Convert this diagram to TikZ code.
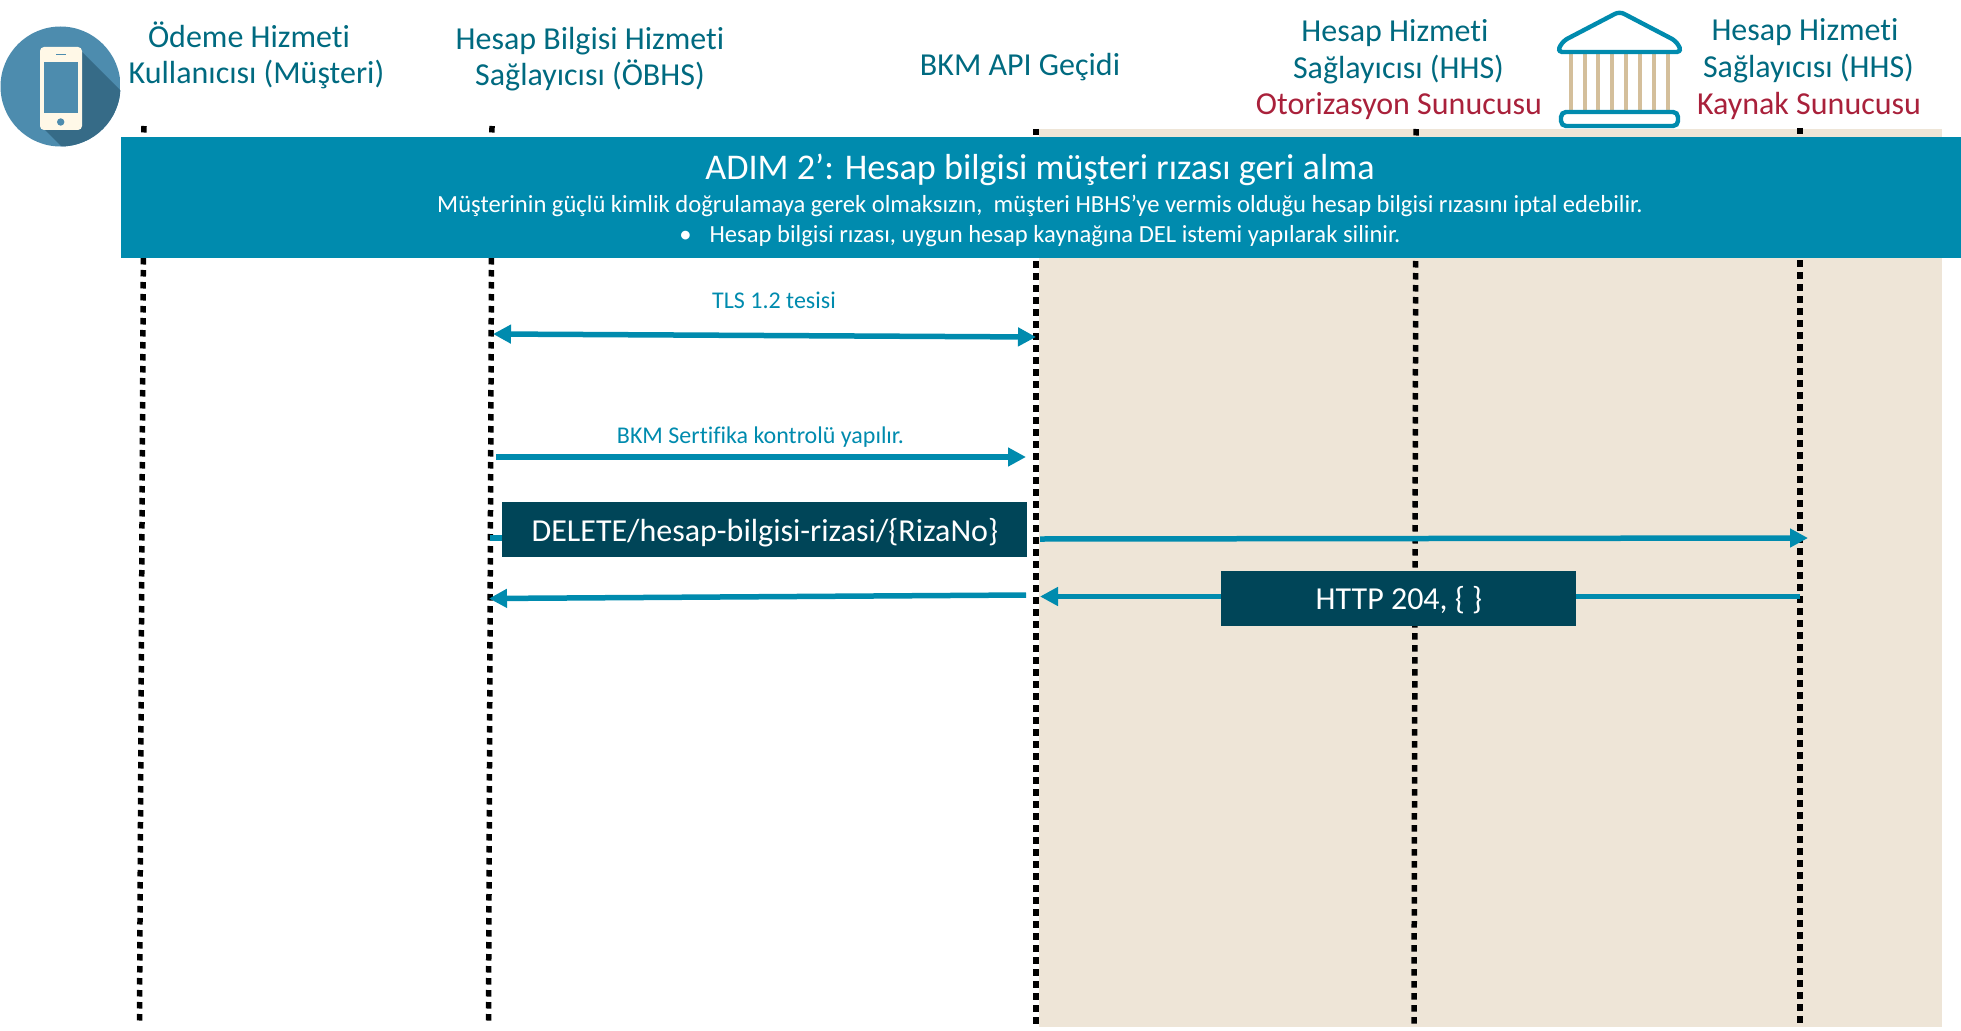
\documentclass[tikz,border=0pt]{standalone}
\usepackage{fontspec}
\setmainfont[Ligatures=NoCommon]{Carlito}
\usetikzlibrary{arrows.meta}
\definecolor{tealbar}{HTML}{008BAE}
\definecolor{darkbox}{HTML}{004558}
\definecolor{headtxt}{HTML}{006A80}
\definecolor{redtxt}{HTML}{A9213B}
\definecolor{sandbg}{HTML}{EEE5D7}
\definecolor{columnc}{HTML}{D4BF9B}
\definecolor{discc}{HTML}{4D8CAE}
\definecolor{shadec}{HTML}{366B87}
\definecolor{phonec}{HTML}{FFF8E7}
\tikzset{
  hdr/.style={text=headtxt,inner sep=0pt,anchor=base,font=\fontsize{32}{38}\selectfont},
  hdrred/.style={hdr,text=redtxt},
  lifeline/.style={black,line width=5.5pt,dash pattern=on 6.5pt off 5.5pt},
  msg/.style={tealbar,line width=5.5pt},
  tip/.style={-{Triangle[length=18pt,width=18pt]}},
  tipboth/.style={{Triangle[length=18pt,width=18pt]}-{Triangle[length=18pt,width=18pt]}},
  msglabel/.style={text=tealbar,inner sep=0pt,anchor=base,font=\fontsize{24}{29}\selectfont},
  msgbox/.style={fill=darkbox,inner sep=0pt},
  boxtxt/.style={text=white,inner sep=0pt,anchor=base,font=\fontsize{32}{38}\selectfont},
  bartxt/.style={text=white,inner sep=0pt,anchor=base,font=\fontsize{24.6}{30}\selectfont}
}
\begin{document}
\begin{tikzpicture}[x=1pt,y=-1pt]
    \useasboundingbox (0,0) rectangle (1961,1030) ;
    % background panel
    \fill [sandbg] (1039,129) rectangle (1942,1027) ;
    % lifelines
    \coordinate (cust top) at (144,126) ;
    \coordinate (cust end) at (139.5,1021) ;
    \coordinate (obhs top) at (492,126) ;
    \coordinate (obhs end) at (488.5,1021) ;
    \coordinate (bkm top) at (1036,129) ;
    \coordinate (bkm end) at (1036,1027) ;
    \coordinate (auth top) at (1416,129) ;
    \coordinate (auth end) at (1414,1027) ;
    \coordinate (res top) at (1800,128) ;
    \coordinate (res end) at (1800,1027) ;
    \draw [lifeline] (cust top) -- (cust end) ;
    \draw [lifeline] (obhs top) -- (obhs end) ;
    \draw [lifeline] (bkm top) -- (bkm end) ;
    \draw [lifeline] (auth top) -- (auth end) ;
    \draw [lifeline] (res top) -- (res end) ;
    % phone icon
    \begin{scope}
      \clip (60.5,86.5) circle (60) ;
      \fill [discc] (0,26) rectangle (121,147) ;
      \fill [shadec] (78,48) -- (130,100) -- (130,160) -- (75,160) -- (42,127) -- cycle ;
    \end{scope}
    \fill [phonec,rounded corners=4pt] (40,47) rectangle (82,130) ;
    \fill [discc] (44,62) rectangle (78,113) ;
    \fill [discc] (56,53.8) rectangle (66,55.2) ;
    \fill [discc] (60.7,122) circle (3.7) ;
    % bank icon
    \foreach \colx in {1571,1584.7,1598.3,1612.3,1626,1640,1653.7,1667.7}
      \draw [columnc,line width=3.7pt] (\colx,54) -- (\colx,110) ;
    \draw [tealbar,line width=4.4pt,line join=round,fill=white,rounded corners=5pt]
      (1619.5,11.5) -- (1676,41) -- (1682,52) -- (1557,52) -- (1563,41) -- cycle ;
    \draw [tealbar,line width=4.4pt,fill=white,rounded corners=5pt]
      (1561,112) rectangle (1678,126) ;
    % banner
    \fill [tealbar] (121,137) rectangle (1961,258) ;
    \node [bartxt,font=\fontsize{36.2}{42}\selectfont] (bar title) at (1040,179) {ADIM 2’: Hesap bilgisi müşteri rızası geri alma} ;
    \node [bartxt] (bar line one) at (1040,212) {Müşterinin güçlü kimlik doğrulamaya gerek olmaksızın,~ müşteri HBHS’ye vermis olduğu hesap bilgisi rızasını iptal edebilir.} ;
    \node [bartxt] (bar line two) at (1040,242.5) {•\hspace{18pt}Hesap bilgisi rızası, uygun hesap kaynağına DEL istemi yapılarak silinir.} ;
    % headers
    \node [hdr] (pay one) at (249,48) {Ödeme Hizmeti} ;
    \node [hdr] (pay two) at (256.5,84) {Kullanıcısı (Müşteri)} ;
    \node [hdr] (acc one) at (590,49.5) {Hesap Bilgisi Hizmeti} ;
    \node [hdr] (acc two) at (590,85.5) {Sağlayıcısı (ÖBHS)} ;
    \node [hdr] (api) at (1020,76) {BKM API Geçidi} ;
    \node [hdr] (auth one) at (1395,42) {Hesap Hizmeti} ;
    \node [hdr] (auth two) at (1398.5,79) {Sağlayıcısı (HHS)} ;
    \node [hdrred] (auth three) at (1399,115) {Otorizasyon Sunucusu} ;
    \node [hdr] (res one) at (1805,41) {Hesap Hizmeti} ;
    \node [hdr] (res two) at (1808.5,78) {Sağlayıcısı (HHS)} ;
    \node [hdrred] (res three) at (1809,114) {Kaynak Sunucusu} ;
    % messages
    \node [msglabel] (tls label) at (774,308.7) {TLS 1.2 tesisi} ;
    \node [msglabel] (cert label) at (760.5,443.8) {BKM Sertifika kontrolü yapılır.} ;
    \coordinate (tls a) at (493,334) ;
    \coordinate (tls b) at (1036,337) ;
    \draw [msg,tipboth] (tls a) -- (tls b) ;
    \coordinate (cert a) at (496,457) ;
    \coordinate (cert b) at (1026,457) ;
    \draw [msg,tip] (cert a) -- (cert b) ;
    \node [msgbox,minimum width=525pt,minimum height=55pt] (del box) at (764.5,529.5) {} ;
    \node [boxtxt] (del text) at (765,541) {DELETE/hesap-bilgisi-rizasi/\{RizaNo\}} ;
    \coordinate (del a) at (490,538) ;
    \coordinate (del b) at (1040,539) ;
    \coordinate (del c) at (1808,538) ;
    \draw [msg] (del a) -- (del a -| del box.west) ;
    \draw [msg,tip] (del b) -- (del c) ;
    \node [msgbox,minimum width=355pt,minimum height=55pt] (http box) at (1398.5,598.5) {} ;
    \node [boxtxt] (http text) at (1399,609) {HTTP 204, \{ \}} ;
    \coordinate (http a) at (1800,596.5) ;
    \coordinate (http b) at (1040,596.5) ;
    \draw [msg] (http a) -- (http a -| http box.east) ;
    \draw [msg,tip] (http b -| http box.west) -- (http b) ;
    \coordinate (back a) at (1026,595) ;
    \coordinate (back b) at (489,598.5) ;
    \draw [msg,tip] (back a) -- (back b) ;
  \end{tikzpicture}
\end{document}
